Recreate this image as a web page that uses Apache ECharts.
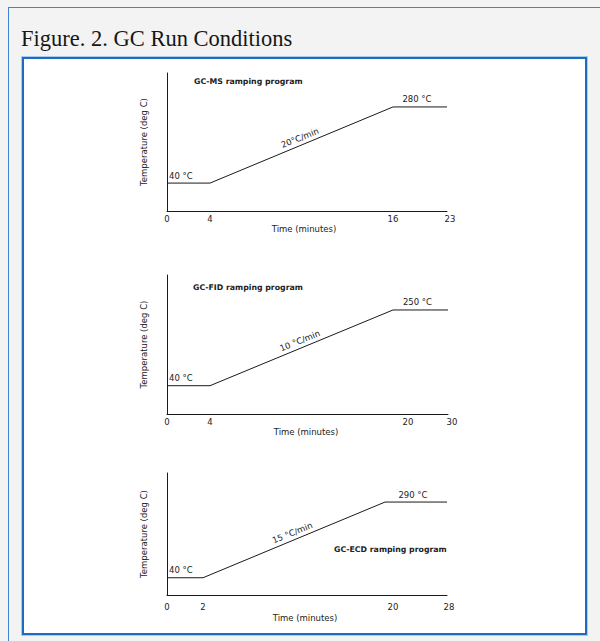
<!DOCTYPE html>
<html>
<head>
<meta charset="utf-8">
<script src="https://cdn.jsdelivr.net/npm/echarts@6/dist/echarts.min.js"></script>
<style>
  html, body { margin: 0; padding: 0; background: #f3f3f3; }
  #wrap { position: relative; width: 600px; height: 641px; overflow: hidden; background: #f3f3f3; }
  #outer { position: absolute; left: 8px; top: 7px; width: 700px; height: 700px;
           border-left: 1.5px solid #3f84cf; border-top: 1.5px solid #3f84cf; box-sizing: border-box; }
  #inner { position: absolute; left: 22px; top: 57px; width: 565px; height: 578px; background: #fff;
           border: 2px solid #1c6bbf; box-sizing: border-box; box-shadow: 0 0 0 1px #a9cbee; }
  #chart { position: absolute; left: 0; top: 0; width: 600px; height: 641px; }
</style>
</head>
<body>
<div id="wrap">
  <div id="outer"></div>
  <div id="inner"></div>
  <div id="chart"></div>
</div>
<script>
// ---- data ----
const pageTitle = 'Figure. 2. GC Run Conditions';
const programNames = ['GC-MS ramping program', 'GC-FID ramping program', 'GC-ECD ramping program'];
const timesMS = [0, 4, 16, 23];
const tempsMS = [40, 40, 280, 280];
const timesFID = [0, 4, 20, 30];
const tempsFID = [40, 40, 250, 250];
const timesECD = [0, 2, 20, 28];
const tempsECD = [40, 40, 290, 290];
const rateLabels = ['20°C/min', '10 °C/min', '15 °C/min'];
const tempUnit = ' °C';
const xAxisName = 'Time (minutes)';
const yAxisName = 'Temperature (deg C)';

// ---- layout (schematic, segmented time axis) ----
const layouts = [
  { top: 73,  bottom: 211, segX: [167, 210, 393, 447], yMin: -48,   yMax: 387, titleX: 194, titleY: 81,
    labelMargin: 3.5, nameGap: 13, namePad: 5, kinkShift: 0, endShift: 3 },
  { top: 275, bottom: 414, segX: [167, 210, 393, 448], yMin: -38.5, yMax: 347, titleX: 193, titleY: 287,
    labelMargin: 3.2, nameGap: 8, namePad: 9, kinkShift: 15, endShift: 4 },
  { top: 473, bottom: 595, segX: [167, 203, 385, 447], yMin: -17,   yMax: 386, titleX: 334, titleY: 549,
    labelMargin: 7, nameGap: 18, namePad: 22, kinkShift: 8, endShift: 2 }
];

const programs = [
  { times: timesMS, temps: tempsMS },
  { times: timesFID, temps: tempsFID },
  { times: timesECD, temps: tempsECD }
];

const FONT = '"DejaVu Sans", Verdana, sans-serif';
const TXT = '#222';
const LINE = '#1a1a1a';
const FS = 8.5;

const grid = [], xAxis = [], yAxis = [], series = [], graphic = [];

graphic.push({
  type: 'text', x: 21, y: 38,
  style: { text: pageTitle, font: '22.5px "Liberation Serif", "Times New Roman", serif',
           fill: '#161616', verticalAlign: 'middle', align: 'left' }
});

programs.forEach((p, c) => {
  const L = layouts[c];
  graphic.push({
    type: 'text', x: L.titleX, y: L.titleY,
    style: { text: programNames[c], font: 'bold 7.8px ' + FONT, fill: TXT,
             verticalAlign: 'middle', align: 'left' }
  });
  for (let s = 0; s < 3; s++) {
    const gi = grid.length;
    grid.push({ left: L.segX[s], width: L.segX[s + 1] - L.segX[s], top: L.top,
                height: L.bottom - L.top, containLabel: false, outerBoundsMode: 'none' });
    const axisLabel = { show: true, customValues: s === 2 ? [p.times[2], p.times[3]] : [p.times[s]],
                        fontSize: FS, fontFamily: FONT, color: TXT, margin: L.labelMargin };
    if (s === 2) {
      axisLabel.formatter = (v) => (v === p.times[2] ? '{k|' + v + '}' : '{e|' + v + '}');
      axisLabel.rich = {
        k: { fontSize: FS, fontFamily: FONT, color: TXT, padding: [0, 0, 0, 2 * L.kinkShift] },
        e: { fontSize: FS, fontFamily: FONT, color: TXT, padding: [0, 0, 0, 2 * L.endShift] }
      };
    }
    const xa = {
      type: 'value', gridIndex: gi, min: p.times[s], max: p.times[s + 1],
      axisLine: { show: true, onZero: false, lineStyle: { color: LINE, width: 1 } },
      axisTick: { show: false }, splitLine: { show: false },
      axisLabel
    };
    if (s === 1) {
      xa.name = xAxisName;
      xa.nameLocation = 'middle';
      xa.nameGap = L.nameGap;
      xa.nameTextStyle = { fontSize: FS, fontFamily: FONT, color: TXT, padding: [0, 0, 0, L.namePad] };
    }
    xAxis.push(xa);
    const ya = {
      type: 'value', gridIndex: gi, min: L.yMin, max: L.yMax,
      axisLine: { show: s === 0, onZero: false, lineStyle: { color: LINE, width: 1 } },
      axisTick: { show: false }, splitLine: { show: false }, axisLabel: { show: false }
    };
    if (s === 0) {
      ya.name = yAxisName;
      ya.nameLocation = 'middle';
      ya.nameGap = 18.5;
      ya.nameTextStyle = { fontSize: FS, fontFamily: FONT, color: TXT };
    }
    yAxis.push(ya);

    const marks = [];
    if (s === 0) {
      marks.push({ coord: [p.times[0], p.temps[0]],
        label: { formatter: p.temps[0] + tempUnit, position: 'top', align: 'left', offset: [2, 0], distance: 3 } });
    }
    if (s === 1) {
      marks.push({ coord: [(p.times[1] + p.times[2]) / 2, (p.temps[1] + p.temps[2]) / 2],
        label: { formatter: rateLabels[c], position: 'top', distance: 3, rotate: 22 } });
    }
    if (s === 2) {
      marks.push({ coord: [(p.times[2] + p.times[3]) / 2, p.temps[2]],
        label: { formatter: p.temps[2] + tempUnit, position: 'top', distance: 3, offset: [-3, 0] } });
    }
    series.push({
      type: 'line', xAxisIndex: gi, yAxisIndex: gi,
      data: [[p.times[s], p.temps[s]], [p.times[s + 1], p.temps[s + 1]]],
      showSymbol: false, symbol: 'none', clip: false,
      lineStyle: { color: LINE, width: 1 },
      markPoint: {
        symbol: 'circle', symbolSize: 0, silent: true,
        label: { show: true, fontSize: FS, fontFamily: FONT, color: TXT },
        data: marks
      }
    });
  }
});

const chart = echarts.init(document.getElementById('chart'), null, { renderer: 'svg' });
chart.setOption({
  animation: false,
  backgroundColor: 'transparent',
  grid, xAxis, yAxis, series, graphic
});
</script>
</body>
</html>
